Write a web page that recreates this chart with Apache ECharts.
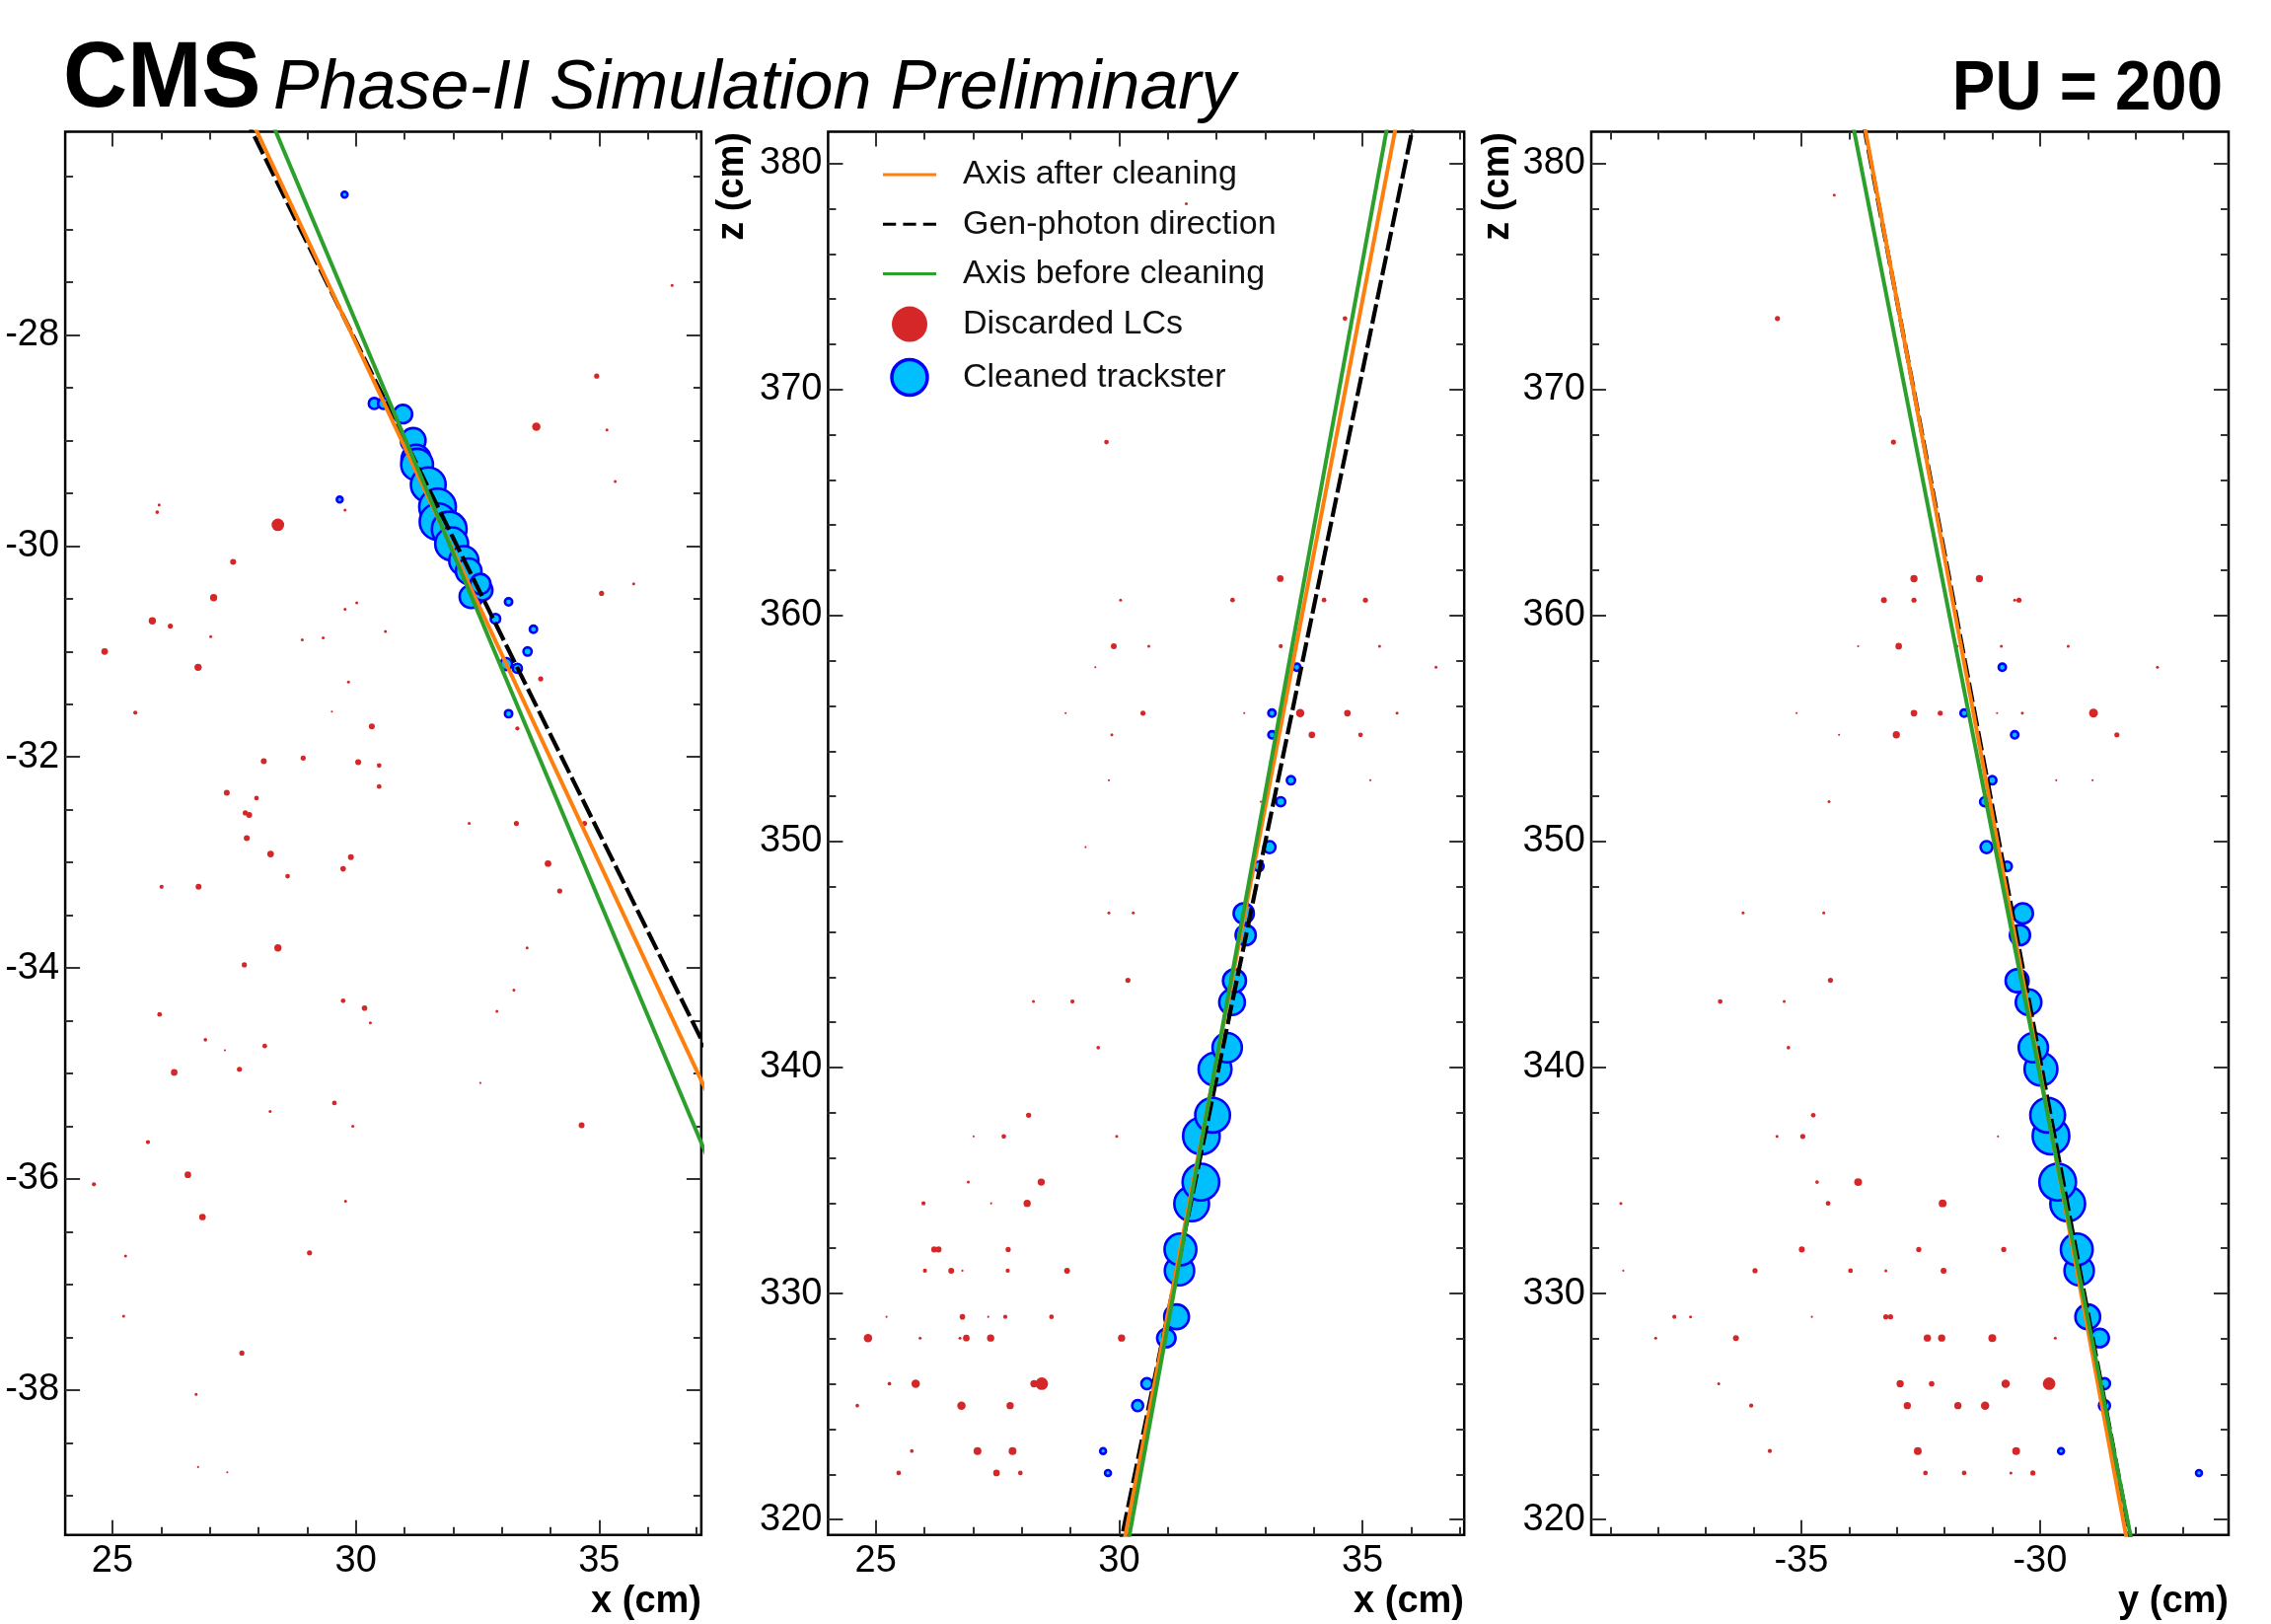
<!DOCTYPE html>
<html><head><meta charset="utf-8">
<script src="https://cdn.jsdelivr.net/npm/echarts@6/dist/echarts.min.js"></script>
<style>html,body{margin:0;padding:0;background:#fff}#c{width:2302px;height:1646px}</style>
</head><body><div id="c"></div>
<script>
// ---------------- DATA ----------------
// Tick labels
const xTickLabels = [25, 30, 35];
const yTickLabels = [-38, -36, -34, -32, -30, -28];
const zTickLabels = [320, 330, 340, 350, 360, 370, 380];
const yTickLabels3 = [-35, -30];

// Cleaned trackster layer clusters (3D), energy in arbitrary units
const tsZ = [322.06, 323.03, 325.04, 326.01, 328.03, 328.97, 331.01, 331.95, 333.97, 334.93, 336.97, 337.89, 339.93, 340.88, 342.89, 343.84, 345.86, 346.82, 348.90, 349.75, 351.76, 352.71, 354.72, 355.68, 357.71];
const tsX = [29.77, 29.67, 30.38, 30.57, 30.97, 31.18, 31.24, 31.26, 31.49, 31.68, 31.69, 31.92, 31.97, 32.22, 32.32, 32.37, 32.60, 32.56, 32.87, 33.09, 33.32, 33.53, 33.14, 33.14, 33.65];
const tsY = [-26.67, -29.56, -28.65, -28.65, -28.75, -29.00, -29.18, -29.23, -29.42, -29.63, -29.77, -29.84, -29.98, -30.14, -30.24, -30.48, -30.42, -30.36, -30.69, -31.12, -31.16, -31.00, -30.53, -31.59, -30.79];
const tsE = [0.45, 0.45, 1.6, 1.6, 4.5, 8.1, 11.4, 13.4, 16, 17.8, 17.8, 16, 14.3, 11.4, 8.7, 7, 5.4, 5.4, 1.2, 1.9, 1.1, 0.9, 0.7, 0.7, 0.7];

// Discarded LCs, per projection: [a, b, energy]
const lcXY = [
 [36.50,-27.53,0.1],[34.95,-28.39,0.3],[33.71,-28.87,0.8],[35.16,-28.90,0.1],[35.33,-29.39,0.1],
 [25.96,-29.61,0.1],[25.92,-29.68,0.15],[29.78,-29.66,0.1],[28.40,-29.80,1.8],[27.48,-30.15,0.4],
 [27.08,-30.49,0.6],[35.05,-30.45,0.3],[35.71,-30.36,0.1],[30.02,-30.54,0.1],[29.78,-30.60,0.1],
 [25.82,-30.71,0.6],[26.19,-30.76,0.3],[24.84,-31.00,0.5],[27.02,-30.86,0.1],[28.90,-30.89,0.1],
 [29.33,-30.87,0.1],[30.61,-30.81,0.1],[26.76,-31.15,0.6],[33.80,-31.26,0.3],[29.85,-31.29,0.1],
 [25.47,-31.58,0.2],[29.51,-31.57,0.05],[33.32,-31.73,0.2],[30.33,-31.71,0.4],[28.11,-32.04,0.4],
 [28.92,-32.01,0.3],[30.05,-32.05,0.4],[30.48,-32.08,0.25],[30.48,-32.28,0.25],[27.35,-32.34,0.4],
 [27.96,-32.39,0.25],[27.73,-32.53,0.3],[27.81,-32.55,0.4],[27.76,-32.77,0.4],[28.25,-32.92,0.5],
 [32.33,-32.63,0.1],[33.30,-32.63,0.3],[34.70,-32.63,0.3],[33.95,-33.01,0.5],[29.90,-32.95,0.4],
 [29.74,-33.06,0.35],[28.60,-33.13,0.25],[26.01,-33.23,0.2],[26.77,-33.23,0.4],[34.19,-33.27,0.3],
 [28.40,-33.81,0.6],[27.71,-33.97,0.3],[33.52,-33.81,0.1],[33.25,-34.21,0.1],[32.90,-34.41,0.1],
 [25.97,-34.44,0.25],[29.74,-34.31,0.25],[30.18,-34.38,0.35],[30.30,-34.52,0.1],[26.91,-34.68,0.15],
 [27.31,-34.78,0.05],[28.13,-34.74,0.25],[26.27,-34.99,0.5],[27.61,-34.96,0.3],[32.56,-35.09,0.05],
 [28.24,-35.36,0.1],[29.56,-35.28,0.25],[29.94,-35.50,0.1],[34.64,-35.49,0.4],[25.73,-35.65,0.2],
 [26.55,-35.96,0.5],[24.62,-36.05,0.2],[26.85,-36.36,0.5],[29.79,-36.21,0.1],[29.05,-36.70,0.3],
 [25.27,-36.73,0.1],[25.23,-37.30,0.1],[27.66,-37.65,0.3],[26.72,-38.04,0.1],[26.76,-38.73,0.05],
 [27.36,-38.78,0.05]
];
const lcXZ = [
 [31.38,378.22,0.1],[29.74,367.67,0.25],[34.64,373.14,0.25],[33.31,361.63,0.5],[30.03,360.68,0.1],
 [32.33,360.68,0.25],[34.21,360.68,0.25],[35.06,360.68,0.3],[29.89,358.64,0.4],[30.61,358.64,0.1],
 [33.32,358.64,0.2],[35.35,358.64,0.1],[29.51,357.71,0.05],[36.51,357.71,0.1],[28.90,355.68,0.05],
 [30.49,355.68,0.3],[32.57,355.68,0.05],[33.72,355.68,0.8],[34.69,355.68,0.5],[35.71,355.68,0.1],
 [29.85,354.72,0.1],[33.96,354.72,0.5],[34.96,354.72,0.25],[29.79,352.71,0.05],[35.16,352.71,0.05],
 [32.91,351.76,0.05],[29.31,349.75,0.05],[29.79,346.84,0.1],[30.29,346.84,0.1],[30.18,343.86,0.3],
 [28.24,342.92,0.1],[29.04,342.92,0.2],[29.57,340.88,0.15],[28.14,337.89,0.3],[27.01,336.95,0.05],
 [27.63,336.95,0.25],[29.95,336.95,0.1],[26.90,334.93,0.1],[28.40,334.93,0.6],[25.98,333.99,0.2],
 [27.37,333.99,0.05],[28.11,333.99,0.6],[26.20,331.95,0.4],[26.29,331.95,0.4],[27.72,331.95,0.3],
 [26.01,331.01,0.2],[26.55,331.01,0.4],[26.78,331.01,0.05],[27.71,331.01,0.2],[28.93,331.01,0.4],
 [25.22,328.97,0.05],[26.78,328.97,0.35],[27.31,328.97,0.05],[27.66,328.97,0.2],[28.61,328.97,0.25],
 [24.84,328.03,0.8],[25.91,328.03,0.1],[26.73,328.03,0.1],[26.86,328.03,0.5],[27.36,328.03,0.6],
 [30.05,328.03,0.6],[25.28,326.01,0.15],[25.82,326.01,0.8],[28.25,326.01,0.6],[28.41,326.01,1.8],
 [30.51,326.01,0.3],[24.62,325.04,0.15],[26.76,325.04,0.8],[27.76,325.04,0.6],[25.74,323.03,0.15],
 [27.09,323.03,0.7],[27.81,323.03,0.7],[25.47,322.06,0.25],[27.48,322.06,0.5],[27.97,322.06,0.25]
];
const lcYZ = [
 [-34.31,378.60,0.1],[-35.50,373.14,0.3],[-33.07,367.67,0.3],[-32.64,361.63,0.6],[-31.27,361.63,0.6],
 [-33.27,360.68,0.4],[-32.64,360.68,0.3],[-30.53,360.68,0.1],[-30.44,360.68,0.3],[-33.81,358.64,0.05],
 [-32.96,358.64,0.5],[-31.74,358.64,0.1],[-30.81,358.64,0.1],[-29.41,358.64,0.1],[-27.54,357.71,0.1],
 [-35.10,355.68,0.05],[-32.64,355.68,0.5],[-32.09,355.68,0.3],[-30.90,355.68,0.05],[-30.37,355.68,0.1],
 [-28.88,355.68,0.9],[-34.21,354.72,0.05],[-33.01,354.72,0.6],[-28.39,354.72,0.3],[-29.66,352.71,0.05],
 [-28.90,352.71,0.05],[-34.42,351.76,0.1],[-36.22,346.84,0.1],[-34.53,346.84,0.1],[-34.39,343.86,0.3],
 [-36.70,342.92,0.25],[-35.36,342.92,0.1],[-35.27,340.88,0.15],[-34.75,337.89,0.25],[-35.51,336.95,0.1],
 [-34.97,336.95,0.3],[-30.88,336.95,0.05],[-34.67,334.93,0.15],[-33.81,334.93,0.7],[-38.78,333.99,0.1],
 [-34.44,333.99,0.25],[-32.04,333.99,0.7],[-34.99,331.95,0.4],[-32.54,331.95,0.3],[-30.76,331.95,0.3],
 [-38.73,331.01,0.05],[-35.97,331.01,0.3],[-33.97,331.01,0.25],[-33.23,331.01,0.1],[-32.02,331.01,0.4],
 [-37.66,328.97,0.2],[-37.32,328.97,0.1],[-34.78,328.97,0.05],[-33.23,328.97,0.3],[-33.13,328.97,0.3],
 [-38.05,328.03,0.1],[-36.37,328.03,0.4],[-32.36,328.03,0.6],[-32.06,328.03,0.6],[-31.00,328.03,0.7],
 [-29.68,328.03,0.1],[-36.73,326.01,0.1],[-32.93,326.01,0.6],[-32.27,326.01,0.35],[-30.72,326.01,0.8],
 [-29.81,326.01,1.8],[-36.05,325.04,0.2],[-32.78,325.04,0.6],[-31.72,325.04,0.6],[-31.15,325.04,0.8],
 [-35.66,323.03,0.2],[-32.56,323.03,0.7],[-30.50,323.03,0.7],[-32.40,322.06,0.25],[-31.59,322.06,0.25],
 [-30.61,322.06,0.1],[-30.15,322.06,0.3]
];

// Axes (3D lines) read at z = 320 and z = 380
const axisZ = [320, 380];
const afterX = [30.19, 35.54], afterY = [-28.26, -33.53];
const beforeX = [30.27, 35.37], beforeY = [-28.17, -33.76];
const genX = [30.13, 35.88], genY = [-28.18, -33.54];

// ---------------- CHART ----------------
const FONT = '"Liberation Sans", Arial, Helvetica, sans-serif';
const chart = echarts.init(document.getElementById('c'), null, {renderer: 'canvas'});

const GRID_TOP = 133.6, GRID_H = 1422.1;
const panels = [
  {left: 66.1, width: 644.8, xr: [24.03, 37.10], yr: [-39.373, -26.075], xMaj: xTickLabels, xStep: 1, yMaj: yTickLabels, yStep: 0.5},
  {left: 839.4, width: 644.8, xr: [24.02, 37.09], yr: [319.32, 381.40], xMaj: xTickLabels, xStep: 1, yMaj: zTickLabels, yStep: 2},
  {left: 1613, width: 646, xr: [-39.40, -26.05], yr: [319.32, 381.40], xMaj: yTickLabels3, xStep: 1, yMaj: zTickLabels, yStep: 2}
];

function minorVals(r, step, major) {
  const out = [];
  for (let v = Math.ceil(r[0] / step) * step; v <= r[1] + 1e-9; v += step) {
    const rv = Math.round(v * 1e6) / 1e6;
    if (major.indexOf(rv) < 0) out.push(rv);
  }
  return out;
}

const grids = [], xAxes = [], yAxes = [];
function mkAxis(g, pos, range, vals, len, labels) {
  return {
    gridIndex: g, type: 'value', position: pos, min: range[0], max: range[1],
    axisLine: {show: false, onZero: false},
    splitLine: {show: false},
    axisTick: {show: true, inside: true, length: len, customValues: vals, lineStyle: {color: '#333', width: 2}},
    axisLabel: labels ? {show: true, customValues: vals, fontSize: 38, fontFamily: FONT, color: '#000', margin: (pos === 'left' ? 6 : 8)} : {show: false}
  };
}
panels.forEach((p, g) => {
  grids.push({left: p.left, top: GRID_TOP, width: p.width, height: GRID_H, show: true, borderColor: '#000', borderWidth: 2.5, backgroundColor: 'transparent', containLabel: false, outerBoundsMode: 'none'});
  const xm = minorVals(p.xr, p.xStep, p.xMaj), ym = minorVals(p.yr, p.yStep, p.yMaj);
  xAxes.push(mkAxis(g, 'bottom', p.xr, p.xMaj, 15, true));
  xAxes.push(mkAxis(g, 'bottom', p.xr, xm, 8, false));
  xAxes.push(mkAxis(g, 'top', p.xr, p.xMaj, 15, false));
  xAxes.push(mkAxis(g, 'top', p.xr, xm, 8, false));
  yAxes.push(mkAxis(g, 'left', p.yr, p.yMaj, 15, true));
  yAxes.push(mkAxis(g, 'left', p.yr, ym, 8, false));
  yAxes.push(mkAxis(g, 'right', p.yr, p.yMaj, 15, false));
  yAxes.push(mkAxis(g, 'right', p.yr, ym, 8, false));
});

// projections of 3D axis lines
function lineAt(ax, ay, z) {
  const t = (z - axisZ[0]) / (axisZ[1] - axisZ[0]);
  return {x: ax[0] + t * (ax[1] - ax[0]), y: ay[0] + t * (ay[1] - ay[0]), z: z};
}
function proj(ax, ay, da, db) {
  return [250, 450].map(z => { const p = lineAt(ax, ay, z); return [p[da], p[db]]; });
}
const dims = [['x', 'y'], ['x', 'z'], ['y', 'z']];
const lcSets = [lcXY, lcXZ, lcYZ];
const tsAll = {x: tsX, y: tsY, z: tsZ};

const C_ORANGE = '#ff7f0e', C_GREEN = '#2ca02c', C_RED = '#d62728', C_CYAN = '#00bfff', C_BLUE = '#0000ff';
const series = [];
panels.forEach((p, g) => {
  const xi = 4 * g, yi = 4 * g;
  const da = dims[g][0], db = dims[g][1];
  series.push({
    name: 'Discarded LCs', type: 'scatter', xAxisIndex: xi, yAxisIndex: yi, symbol: 'circle',
    data: lcSets[g], symbolSize: v => 9.5 * Math.sqrt(v[2]),
    itemStyle: {color: C_RED, opacity: 1}, emphasis: {disabled: true}, z: 2
  });
  series.push({
    name: 'Cleaned trackster', type: 'scatter', xAxisIndex: xi, yAxisIndex: yi, symbol: 'circle',
    data: tsE.map((e, i) => [tsAll[da][i], tsAll[db][i], e]), symbolSize: v => 8.8 * Math.sqrt(v[2]),
    itemStyle: {color: C_CYAN, borderColor: C_BLUE, borderWidth: 2.6, opacity: 1}, emphasis: {disabled: true}, z: 3
  });
  const lineDefs = [
    ['Gen-photon direction', genX, genY, '#000', [20, 5], 4.2],
    ['Axis after cleaning', afterX, afterY, C_ORANGE, 'solid', 4],
    ['Axis before cleaning', beforeX, beforeY, C_GREEN, 'solid', 4]
  ];
  lineDefs.forEach((d, k) => {
    series.push({
      name: d[0], type: 'line', xAxisIndex: xi, yAxisIndex: yi, symbol: 'none', showSymbol: false,
      data: proj(d[1], d[2], da, db), clip: true,
      lineStyle: {color: d[3], width: d[5], type: d[4]}, itemStyle: {color: d[3]},
      emphasis: {disabled: true}, z: 4 + k
    });
  });
});

const ICON_LINE = 'path://M0,0L54,0L54,3L0,3Z';
const ICON_DASH = 'path://M0,0L13,0L13,3L0,3ZM20,0L33,0L33,3L20,3ZM40,0L53,0L53,3L40,3Z';

const option = {
  animation: false,
  backgroundColor: '#fff',
  textStyle: {fontFamily: FONT},
  grid: grids, xAxis: xAxes, yAxis: yAxes, series: series,
  legend: {
    left: 895, top: 160, orient: 'vertical', padding: 0, itemWidth: 54, itemHeight: 36, itemGap: 16.2,
    selectedMode: false,
    textStyle: {fontSize: 34, fontFamily: FONT, color: '#111', padding: [0, 0, 0, 22]},
    data: [
      {name: 'Axis after cleaning', icon: ICON_LINE, itemStyle: {color: C_ORANGE, borderWidth: 0}},
      {name: 'Gen-photon direction', icon: ICON_DASH, itemStyle: {color: '#000', borderWidth: 0}},
      {name: 'Axis before cleaning', icon: ICON_LINE, itemStyle: {color: C_GREEN, borderWidth: 0}},
      {name: 'Discarded LCs', icon: 'circle', itemStyle: {color: C_RED, borderWidth: 0}},
      {name: 'Cleaned trackster', icon: 'circle', itemStyle: {color: C_CYAN, borderColor: C_BLUE, borderWidth: 3.5}}
    ]
  },
  graphic: [
    {type: 'text', x: 64, y: 82.4, scaleX: 0.96, style: {text: 'CMS', font: 'bold 94px ' + FONT, fill: '#000', align: 'left', verticalAlign: 'middle'}},
    {type: 'text', x: 277, y: 90.3, scaleX: 0.985, style: {text: 'Phase-II Simulation Preliminary', font: 'italic 71px ' + FONT, fill: '#000', align: 'left', verticalAlign: 'middle'}},
    {type: 'text', x: 2253, y: 91, scaleX: 0.92, style: {text: 'PU = 200', font: 'bold 71px ' + FONT, fill: '#000', align: 'right', verticalAlign: 'middle'}},
    {type: 'text', x: 711, y: 1624, style: {text: 'x (cm)', font: 'bold 38px ' + FONT, fill: '#000', align: 'right', verticalAlign: 'middle'}},
    {type: 'text', x: 1484, y: 1624, style: {text: 'x (cm)', font: 'bold 38px ' + FONT, fill: '#000', align: 'right', verticalAlign: 'middle'}},
    {type: 'text', x: 2259, y: 1624, style: {text: 'y (cm)', font: 'bold 38px ' + FONT, fill: '#000', align: 'right', verticalAlign: 'middle'}},
    {type: 'text', x: 743, y: 134, rotation: Math.PI / 2, style: {text: 'z (cm)', font: 'bold 38px ' + FONT, fill: '#000', align: 'right', verticalAlign: 'middle'}},
    {type: 'text', x: 1519, y: 134, rotation: Math.PI / 2, style: {text: 'z (cm)', font: 'bold 38px ' + FONT, fill: '#000', align: 'right', verticalAlign: 'middle'}}
  ]
};
chart.setOption(option);
</script>
</body></html>
